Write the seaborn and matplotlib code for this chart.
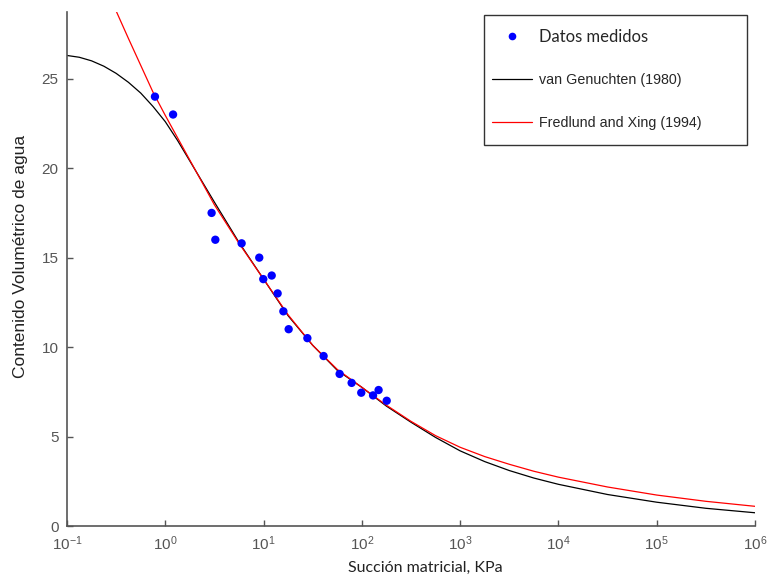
import numpy as np
import pandas as pd
import matplotlib
matplotlib.use("Agg")
import matplotlib.pyplot as plt
import seaborn as sns
from matplotlib.lines import Line2D
from matplotlib.patches import Rectangle

# Measured data
suction_kpa = [0.785, 1.2, 2.96, 3.23, 5.98, 9.04, 9.93, 12.1, 13.9, 15.9, 18.0,
               27.9, 40.8, 59.4, 78.7, 98.6, 130.0, 148.0, 179.0]
water_content = [24.0, 23.0, 17.5, 16.0, 15.8, 15.0, 13.8, 14.0, 13.0, 12.0, 11.0,
                 10.5, 9.5, 8.5, 8.0, 7.45, 7.3, 7.6, 7.0]

# van Genuchten (1980) curve (log10 suction, water content)
vg_log_suction = [-1.0, -0.875, -0.75, -0.625, -0.5, -0.375, -0.25, -0.125, 0.0, 0.125,
                  0.25, 0.5, 0.75, 1.0, 1.25, 1.5, 1.75, 2.0, 2.25, 2.5, 2.75, 3.0,
                  3.25, 3.5, 3.75, 4.0, 4.5, 5.0, 5.5, 6.0]
vg_content = [26.3, 26.2, 26.0, 25.7, 25.3, 24.8, 24.2, 23.45, 22.6, 21.55,
              20.4, 18.1, 15.85, 13.8, 11.75, 10.1, 8.7, 7.75, 6.7, 5.8, 4.95, 4.2,
              3.6, 3.1, 2.68, 2.33, 1.76, 1.33, 0.99, 0.74]

# Fredlund and Xing (1994) curve
fx_log_suction = [-0.55, -0.375, -0.25, -0.125, 0.0, 0.125, 0.25, 0.5, 0.75, 1.0, 1.25,
                  1.5, 1.75, 2.0, 2.25, 2.5, 2.75, 3.0, 3.25, 3.5, 3.75, 4.0, 4.5,
                  5.0, 5.5, 6.0]
fx_content = [29.4, 27.25, 25.75, 24.25, 22.95, 21.7, 20.45, 17.95, 15.8, 13.8, 11.8,
              10.1, 8.75, 7.75, 6.75, 5.85, 5.05, 4.4, 3.88, 3.45, 3.06, 2.73, 2.18,
              1.73, 1.38, 1.1]

df_pts = pd.DataFrame({"s": suction_kpa, "w": water_content})
df_vg = pd.DataFrame({"s": [10 ** v for v in vg_log_suction], "w": vg_content})
df_fx = pd.DataFrame({"s": [10 ** v for v in fx_log_suction], "w": fx_content})

sns.set_style("ticks")
plt.rcParams["font.family"] = ["Liberation Sans", "DejaVu Sans"]
plt.rcParams["axes.unicode_minus"] = False

W, H = 767, 578
fig = plt.figure(figsize=(W / 100, H / 100), dpi=100)
ax = fig.add_axes([67 / W, 1 - 526 / H, (755 - 67) / W, (526 - 12) / H])

sns.lineplot(data=df_vg, x="s", y="w", ax=ax, color="black", linewidth=0.9,
             sort=False, estimator=None)
sns.lineplot(data=df_fx, x="s", y="w", ax=ax, color="red", linewidth=0.9,
             sort=False, estimator=None)
sns.scatterplot(data=df_pts, x="s", y="w", ax=ax, color="blue", s=36,
                edgecolor="none", zorder=5)

ax.set_xscale("log")
ax.set_xlim(0.1, 1e6)
ax.set_ylim(0, 28.73)
ax.set_xticks([10.0 ** k for k in range(-1, 7)])
ax.xaxis.set_minor_locator(matplotlib.ticker.NullLocator())
ax.set_yticks([0, 5, 10, 15, 20, 25])

for side in ["top", "right"]:
    ax.spines[side].set_visible(False)
for side in ["left", "bottom"]:
    ax.spines[side].set_color("#555555")
    ax.spines[side].set_linewidth(1.2)
ax.tick_params(axis="both", direction="in", length=4, width=1, color="#555555",
               labelsize=11, labelcolor="#555555", pad=6)

ax.set_xlabel("Succión matricial, KPa", fontsize=11.5, family=["Lato", "DejaVu Sans"],
              color="#222222")
ax.xaxis.set_label_coords((425 - 67) / 688, -(568 - 526) / 514)
ax.xaxis.label.set_va("center")
ax.set_ylabel("Contenido Volumétrico de agua", fontsize=12.5, color="#222222")
ax.yaxis.set_label_coords(-(67 - 20) / 688, (526 - 256) / 514)
ax.yaxis.label.set_va("center")

# Legend frame
ax.add_patch(Rectangle((484 / W, 1 - 145 / H), (747 - 484) / W, (145 - 15) / H,
                       transform=fig.transFigure, facecolor="white", clip_on=False,
                       edgecolor="#333333", linewidth=1.0, zorder=9))

handles = [
    Line2D([], [], linestyle="none", marker="o", markersize=5.5, color="blue",
           markeredgecolor="none"),
    Line2D([], [], color="black", linewidth=0.9),
    Line2D([], [], color="red", linewidth=0.9),
]
labels = ["Datos medidos", "van Genuchten (1980)", "Fredlund and Xing (1994)"]
leg = ax.legend(handles, labels, loc="upper left",
                bbox_to_anchor=(492 / W, 1 - 28.5 / H), bbox_transform=fig.transFigure,
                frameon=False, handlelength=2.8, handletextpad=0.5, labelspacing=2.0,
                borderpad=0, borderaxespad=0, fontsize=10.3)
leg.set_zorder(11)
texts = leg.get_texts()
texts[0].set_fontsize(12)
texts[0].set_family(["Lato", "DejaVu Sans"])

fig.savefig("out.png", dpi=100)
